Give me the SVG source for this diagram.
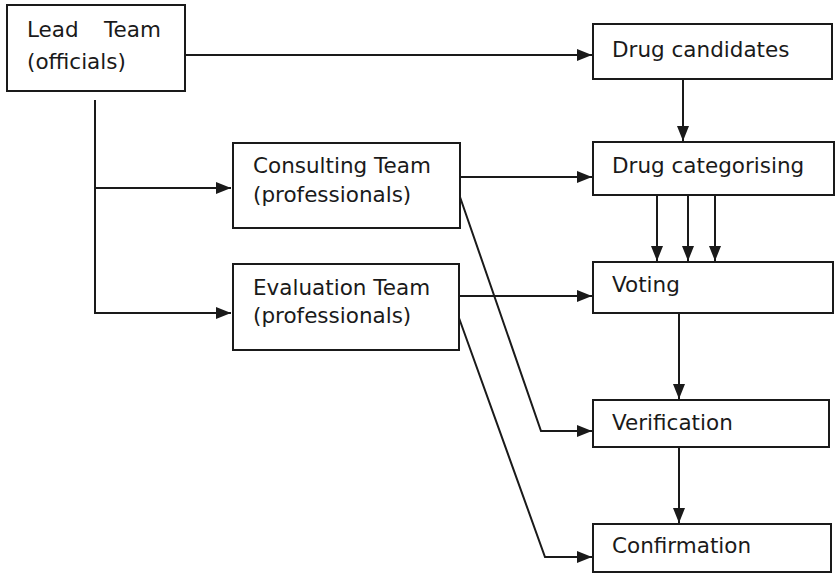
<svg xmlns="http://www.w3.org/2000/svg" width="837" height="574" viewBox="0 0 837 574">
<style>
.box{fill:#fff;stroke:#1a1a1a;stroke-width:2}
.t{font-family:"DejaVu Sans",Verdana,sans-serif;font-size:21.5px;fill:#1a1a1a}
.c{fill:none;stroke:#1a1a1a;stroke-width:2}
</style>
<defs>
<marker id="a" viewBox="0 0 15 12" refX="15" refY="6" markerWidth="15" markerHeight="12" markerUnits="userSpaceOnUse" orient="auto">
<path d="M0,0 L15,6 L0,12 Z" fill="#1a1a1a"/>
</marker>
</defs>
<rect width="837" height="574" fill="#fff"/>
<g id="connectors">
<path class="c" d="M185,55 H592" marker-end="url(#a)"/>
<path class="c" d="M95,100 V313 H231" marker-end="url(#a)"/>
<path class="c" d="M95,188 H231" marker-end="url(#a)"/>
<path class="c" d="M683,79 V141" marker-end="url(#a)"/>
<path class="c" d="M460,177 H592" marker-end="url(#a)"/>
<path class="c" d="M459,296 H592" marker-end="url(#a)"/>
<path class="c" d="M657,195 V261" marker-end="url(#a)"/>
<path class="c" d="M688,195 V261" marker-end="url(#a)"/>
<path class="c" d="M715,195 V261" marker-end="url(#a)"/>
<path class="c" d="M460,197 L541,431 H592" marker-end="url(#a)"/>
<path class="c" d="M459,318 L545,557 H592" marker-end="url(#a)"/>
<path class="c" d="M679,313 V399" marker-end="url(#a)"/>
<path class="c" d="M679,447 V523" marker-end="url(#a)"/>
</g>
<g id="lead">
<rect class="box" x="7" y="5" width="178" height="86"/>
<text class="t" x="27" y="37">Lead</text>
<text class="t" x="104" y="37">Team</text>
<text class="t" x="27" y="69">(officials)</text>
</g>
<g id="consulting">
<rect class="box" x="233" y="143" width="227" height="85"/>
<text class="t" x="253" y="173">Consulting Team</text>
<text class="t" x="253" y="202">(professionals)</text>
</g>
<g id="evaluation">
<rect class="box" x="233" y="264" width="226" height="86"/>
<text class="t" x="253" y="295">Evaluation Team</text>
<text class="t" x="253" y="323">(professionals)</text>
</g>
<g id="candidates">
<rect class="box" x="593" y="24" width="239" height="55"/>
<text class="t" x="612" y="57">Drug candidates</text>
</g>
<g id="categorising">
<rect class="box" x="593" y="142" width="241" height="53"/>
<text class="t" x="612" y="173">Drug categorising</text>
</g>
<g id="voting">
<rect class="box" x="593" y="262" width="240" height="51"/>
<text class="t" x="612" y="292">Voting</text>
</g>
<g id="verification">
<rect class="box" x="593" y="400" width="236" height="47"/>
<text class="t" x="612" y="430">Verification</text>
</g>
<g id="confirmation">
<rect class="box" x="593" y="524" width="238" height="48"/>
<text class="t" x="612" y="553">Confirmation</text>
</g>
</svg>
